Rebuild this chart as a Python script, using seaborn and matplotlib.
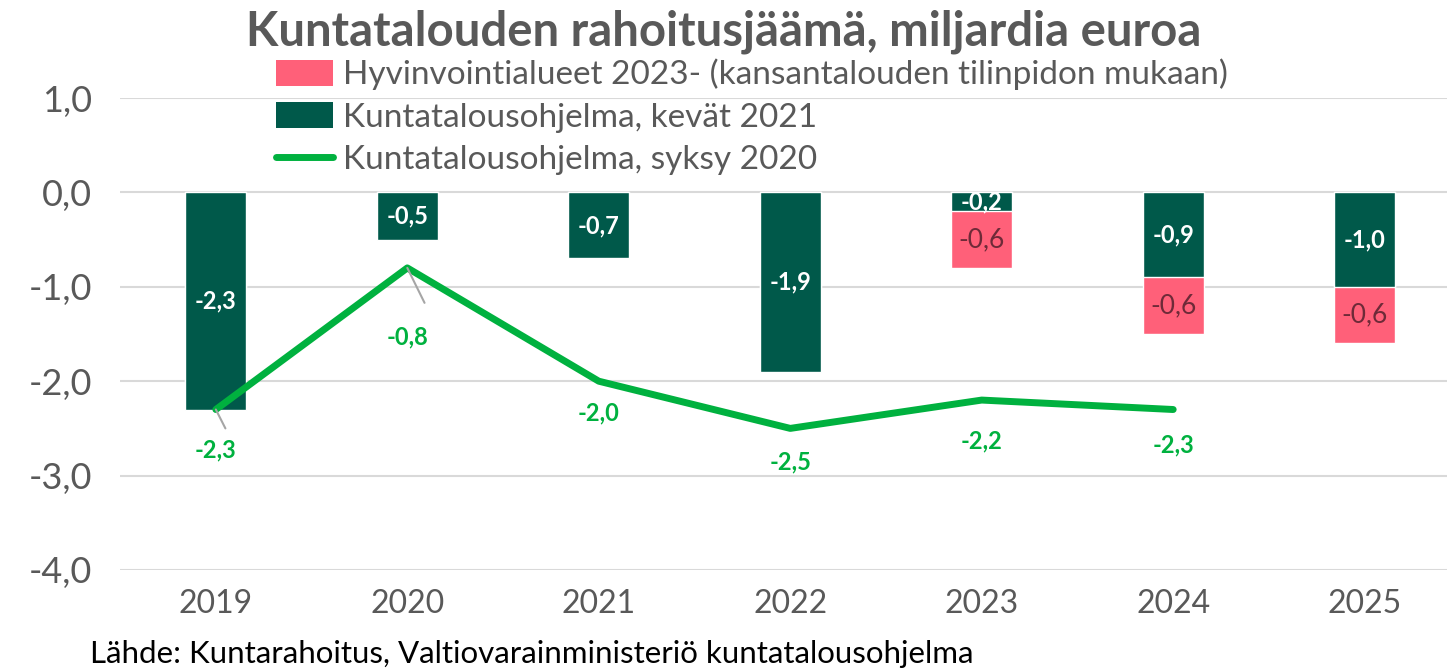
import numpy as np
import pandas as pd
import matplotlib
matplotlib.use("Agg")
import matplotlib.pyplot as plt
import seaborn as sns
from matplotlib.patches import Patch
from matplotlib.lines import Line2D
from matplotlib.ticker import FuncFormatter

# data
years = ["2019", "2020", "2021", "2022", "2023", "2024", "2025"]
kevat_2021 = [-2.3, -0.5, -0.7, -1.9, -0.2, -0.9, -1.0]
hyvinvointi = [np.nan, np.nan, np.nan, np.nan, -0.6, -0.6, -0.6]
syksy_2020 = [-2.3, -0.8, -2.0, -2.5, -2.2, -2.3, np.nan]

label_hyv = "Hyvinvointialueet 2023- (kansantalouden tilinpidon mukaan)"
label_kevat = "Kuntatalousohjelma, kevät 2021"
label_syksy = "Kuntatalousohjelma, syksy 2020"

DARK = "#00594A"
PINK = "#FF6079"
GREEN = "#00B13F"
GREY = "#595959"


def fi(v):
    # suomalainen desimaalipilkku
    return f"{v:.1f}".replace(".", ",")


sns.set_theme(style="white")
plt.rcParams["font.family"] = ["Lato", "DejaVu Sans"]

df = pd.DataFrame({"year": years, "kevat": kevat_2021, "hyv": hyvinvointi, "syksy": syksy_2020})
df["total"] = df["kevat"] + df["hyv"].fillna(0)
df["pos"] = np.arange(len(df))

fig = plt.figure(figsize=(14.47, 6.69), dpi=100)
ax = fig.add_axes([0.083, 0.148, 0.917, 0.7055])

# pink part drawn as full stack, dark part on top
sns.barplot(data=df, x="year", y="total", color=PINK, width=0.32, saturation=1, ax=ax, zorder=2)
sns.barplot(data=df, x="year", y="kevat", color=DARK, width=0.32, saturation=1, ax=ax, zorder=3)
sns.lineplot(data=df.dropna(subset=["syksy"]), x="pos", y="syksy", color=GREEN, linewidth=5,
             ax=ax, zorder=4)

ax.set_ylim(-4, 1)
ax.set_xlim(-0.5, 6.43)
ax.set_yticks([1, 0, -1, -2, -3, -4])
ax.yaxis.set_major_formatter(FuncFormatter(lambda v, p: fi(v)))
ax.grid(axis="y", color="#D9D9D9", linewidth=1.5, zorder=0)
ax.set_axisbelow(True)
for s in ax.spines.values():
    s.set_visible(False)
ax.tick_params(axis="y", length=0, pad=20, labelsize=26, labelcolor=GREY)
ax.tick_params(axis="x", length=0, pad=14, labelsize=23, labelcolor=GREY)
ax.set_xlabel("")
ax.set_ylabel("")

# bar labels
for i, row in df.iterrows():
    k = row["kevat"]
    ax.text(i, k / 2, fi(k), ha="center", va="center",
            color="white", fontsize=17, fontweight="bold", zorder=5)
    if not np.isnan(row["hyv"]):
        ax.text(i, k + row["hyv"] / 2, fi(row["hyv"]), ha="center",
                va="center", color="#6E2A38", fontsize=19, zorder=5)

# line labels
offsets = [0.43, 0.73, 0.34, 0.36, 0.43, 0.38]
for i, (v, off) in enumerate(zip(syksy_2020[:-1], offsets)):
    ax.text(i, v - off, fi(v), ha="center", va="center",
            color=GREEN, fontsize=17, fontweight="bold", zorder=5)
# leader lines
ax.plot([0, 0.05], [-2.3, -2.5], color="#A6A6A6", linewidth=1.5, zorder=5)
ax.plot([1, 1.09], [-0.8, -1.17], color="#A6A6A6", linewidth=1.5, zorder=5)

fig.text(0.5, 0.952, "Kuntatalouden rahoitusjäämä, miljardia euroa", ha="center", va="center",
         fontsize=34, fontweight="bold", color=GREY)

handles = [Patch(facecolor=PINK, edgecolor="none"),
           Patch(facecolor=DARK, edgecolor="none"),
           Line2D([0], [0], color=GREEN, linewidth=5)]
fig.legend(handles, [label_hyv, label_kevat, label_syksy], loc="upper left",
           bbox_to_anchor=(0.191, 0.912), frameon=False, fontsize=24, labelcolor=GREY,
           handlelength=1.7, handleheight=0.8, handletextpad=0.3, labelspacing=0.36,
           borderaxespad=0, borderpad=0)

fig.text(0.062, 0.022, "Lähde: Kuntarahoitus, Valtiovarainministeriö kuntatalousohjelma",
         ha="left", va="center", fontsize=22.5, color="black")

fig.savefig("out.png", dpi=100, facecolor="white")
